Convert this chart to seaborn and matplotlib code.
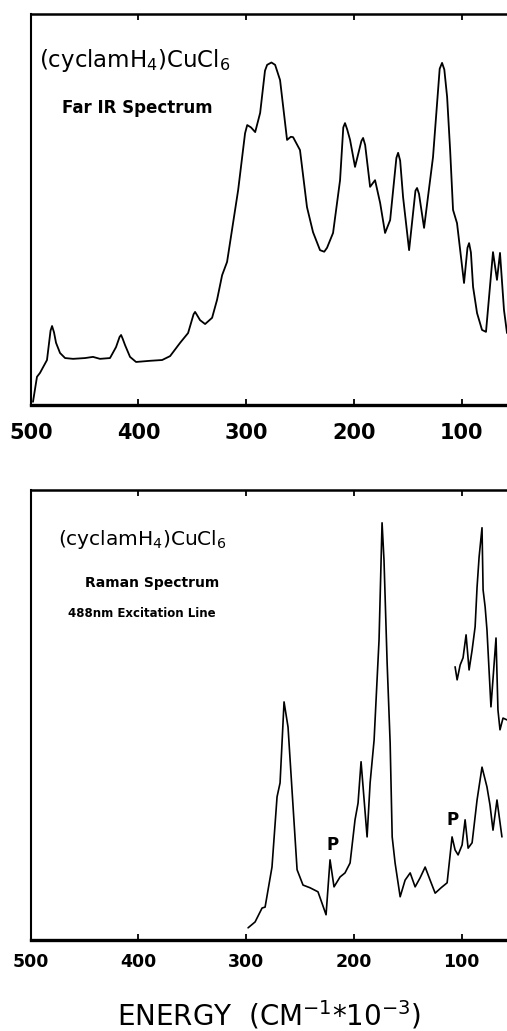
import seaborn as sns
import pandas as pd
import matplotlib.pyplot as plt

# Far IR spectrum (energy in cm-1, relative intensity)
ir_energy = [497.9, 494.2, 491.4, 484.9, 481.6, 480.2, 478.4, 476.5, 472.8, 468.1,
             460.7, 449.6, 442.2, 435.7, 426.4, 420.8, 417.5, 416.1, 414.7, 412.4,
             407.8, 402.2, 389.2, 378.0, 370.6, 361.3, 353.9, 348.8, 347.4, 345.6,
             342.8, 338.1, 331.6, 327.0, 322.3, 317.7, 307.4, 301.0, 299.0, 295.5,
             291.6, 287.0, 282.5, 280.5, 276.5, 273.1, 268.5, 262.0, 258.5, 256.4,
             250.0, 243.5, 237.9, 231.4, 227.5, 224.9, 219.3, 212.8, 209.8, 208.2,
             206.2, 203.5, 198.9, 193.0, 191.4, 189.5, 184.9, 180.3, 175.6, 171.0,
             166.3, 160.5, 158.9, 157.0, 154.3, 148.7, 142.8, 141.3, 139.5, 134.8,
             126.5, 120.3, 118.1, 116.0, 113.4, 110.6, 107.9, 104.2, 97.7, 94.5,
             93.0, 91.3, 89.3, 85.6, 81.0, 77.3, 70.8, 67.1, 64.3, 60.6, 57.8]
ir_signal = [0.8, 7.2, 8.2, 11.5, 19.0, 20.2, 18.6, 15.9, 13.3, 12.0,
             11.8, 12.0, 12.3, 11.8, 12.0, 14.8, 17.4, 17.9, 17.0, 15.3,
             12.3, 11.0, 11.3, 11.5, 12.5, 15.9, 18.4, 23.2, 23.8, 23.0,
             21.7, 20.7, 22.3, 26.9, 33.2, 36.6, 55.0, 69.5, 71.6, 71.0,
             69.8, 74.7, 85.5, 87.0, 87.6, 87.0, 83.1, 67.8, 68.6, 68.5,
             65.2, 50.6, 44.2, 39.6, 39.2, 40.2, 44.0, 57.5, 71.0, 72.1,
             70.5, 67.8, 60.9, 67.5, 68.3, 66.5, 55.8, 57.5, 51.7, 44.0,
             47.3, 63.2, 64.5, 62.5, 53.2, 39.6, 54.8, 55.5, 54.0, 45.3,
             63.4, 86.0, 87.5, 85.8, 78.8, 65.2, 49.9, 46.5, 31.2, 40.2,
             41.4, 39.0, 30.2, 23.5, 19.2, 18.7, 39.1, 32.0, 38.9, 24.3, 18.4]

# Raman spectrum, 488 nm excitation
raman_energy = [298.2, 291.7, 285.2, 282.4, 276.0, 271.3, 268.5, 264.8, 261.1, 257.4,
                252.7, 247.2, 240.7, 233.3, 229.6, 225.8, 222.1, 218.4, 212.8, 208.2,
                203.5, 198.9, 196.1, 193.3, 187.7, 184.9, 181.2, 176.6, 173.8, 172.0,
                169.1, 166.3, 164.4, 161.7, 157.0, 152.4, 147.7, 143.1, 138.5, 133.8,
                129.2, 124.5, 119.0, 113.4, 108.8, 106.0, 103.2, 99.5, 96.7, 93.9,
                90.2, 85.6, 81.0, 76.4, 73.6, 70.8, 67.1, 62.5]
raman_signal = [2.7, 4.0, 7.1, 7.3, 16.2, 31.8, 34.9, 52.9, 47.3, 33.3,
                15.6, 12.2, 11.6, 10.7, 8.2, 5.6, 17.8, 11.8, 14.0, 14.9,
                17.1, 26.7, 30.4, 39.6, 22.9, 34.9, 44.4, 66.7, 92.7, 84.4,
                61.6, 43.8, 22.9, 17.1, 9.6, 13.3, 14.9, 11.8, 13.8, 16.2,
                13.3, 10.4, 11.6, 12.7, 22.9, 20.0, 18.9, 21.1, 26.7, 20.4,
                21.6, 31.1, 38.4, 34.0, 30.0, 24.4, 31.1, 22.9]

# expanded low-energy Raman trace
inset_energy = [106.0, 104.1, 101.3, 98.6, 95.8, 93.0, 90.2, 87.4, 85.6, 83.7,
                81.0, 80.0, 78.1, 76.4, 72.7, 68.0, 66.2, 64.3, 61.5, 57.8]
inset_signal = [60.7, 57.8, 61.1, 62.7, 67.8, 60.0, 64.4, 69.6, 78.4, 85.1,
                91.6, 77.8, 74.0, 68.9, 51.8, 67.1, 51.1, 46.7, 49.3, 48.9]

polarized = [(220.2, 21.1), (107.9, 26.7)]
ticks = [500, 400, 300, 200, 100]

ir = pd.DataFrame({'energy': ir_energy, 'signal': ir_signal})
raman = pd.DataFrame({'energy': raman_energy, 'signal': raman_signal})
inset = pd.DataFrame({'energy': inset_energy, 'signal': inset_signal})

sns.set_style('white', {'axes.edgecolor': 'black', 'text.color': 'black',
                        'xtick.color': 'black'})
plt.rcParams['font.family'] = ['DejaVu Sans']
plt.rcParams['mathtext.default'] = 'regular'

fig = plt.figure(figsize=(5.07, 10.31), dpi=100)
ax1 = fig.add_axes([0.0606, 0.6072, 0.9394, 0.3792])
ax2 = fig.add_axes([0.0606, 0.0883, 0.9394, 0.4365])

sns.lineplot(data=ir, x='energy', y='signal', ax=ax1, color='black', lw=1.3,
             estimator=None, sort=False)
sns.lineplot(data=raman, x='energy', y='signal', ax=ax2, color='black', lw=1.2,
             estimator=None, sort=False)
sns.lineplot(data=inset, x='energy', y='signal', ax=ax2, color='black', lw=1.2,
             estimator=None, sort=False)

for ax, size, pad in [(ax1, 15, 13), (ax2, 12.5, 9.5)]:
    ax.set_xlim(500, 57.8)
    ax.set_ylim(0, 100)
    ax.set_xticks(ticks)
    ax.set_xticklabels([str(t) for t in ticks], fontsize=size, fontweight='bold')
    ax.set_yticks([])
    ax.set_xlabel('')
    ax.set_ylabel('')
    ax.tick_params(axis='x', direction='in', top=True, bottom=True, length=4,
                   width=1.3, pad=pad, colors='black')
    ax.spines['right'].set_visible(False)
    ax.spines['left'].set_linewidth(1.5)
    ax.spines['top'].set_linewidth(1.8)
    ax.spines['bottom'].set_linewidth(2.4)

ax1.text(0.017, 0.864, '(cyclamH$_4$)CuCl$_6$', transform=ax1.transAxes,
         fontsize=16.5, va='baseline', ha='left', color='black')
ax1.text(0.066, 0.747, 'Far IR Spectrum', transform=ax1.transAxes,
         fontsize=12, fontweight='bold', va='baseline', ha='left', color='black')

ax2.text(0.057, 0.878, '(cyclamH$_4$)CuCl$_6$', transform=ax2.transAxes,
         fontsize=14.5, va='baseline', ha='left', color='black')
ax2.text(0.114, 0.784, 'Raman Spectrum', transform=ax2.transAxes,
         fontsize=10, fontweight='bold', va='baseline', ha='left', color='black')
ax2.text(0.078, 0.718, '488nm Excitation Line', transform=ax2.transAxes,
         fontsize=8.5, fontweight='bold', va='baseline', ha='left', color='black')
for x, y in polarized:
    ax2.text(x, y, 'P', fontsize=12, fontweight='bold', ha='center', va='center',
             color='black')

ax2.set_xlabel('ENERGY  (CM$^{-1}$*10$^{-3}$)', fontsize=20, labelpad=20,
               color='black')

fig.savefig('out.png', dpi=100)
